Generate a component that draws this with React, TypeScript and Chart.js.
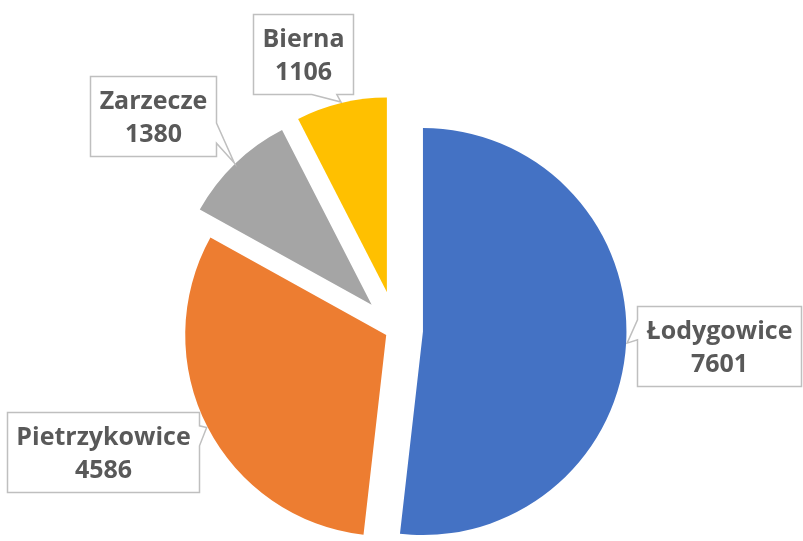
import React, { useEffect, useRef } from "react";
import { Chart, registerables } from "chart.js";

Chart.register(...registerables);

// ---- data ----
const categories: string[] = ["Łodygowice", "Pietrzykowice", "Zarzecze", "Bierna"];
const values: number[] = [7601, 4586, 1380, 1106];

// ---- style ----
const sliceColors: string[] = ["#4472C4", "#ED7D31", "#A5A5A5", "#FFC000"];
const sliceExplode: number[] = [27, 11, 35, 39]; // px each slice is pulled out along its bisector
const sliceRadius: number[] = [203.5, 201, 196.5, 194.5];
// callout box centre relative to the pointer tip (tip sits on the arc at the slice bisector)
const calloutShift: [number, number][] = [
  [91.5, 3],
  [-104, 24],
  [-81.5, -46.5],
  [-38, -48],
];

const FONT = "bold 25px 'Open Sans'";
const TEXT_COLOR = "#595959";
const BORDER_COLOR = "#BFBFBF";

function calloutPath(
  ctx: CanvasRenderingContext2D,
  l: number,
  t: number,
  w: number,
  h: number,
  tipX: number,
  tipY: number
) {
  const cx = l + w / 2;
  const cy = t + h / 2;
  const dxPos = tipX - cx;
  const dyPos = tipY - cy;
  const r = l + w;
  const b = t + h;
  const horizontal = Math.abs(dxPos * h) > Math.abs(dyPos * w);
  const x1 = l + (w * (dxPos > 0 ? 7 : 2)) / 12;
  const x2 = l + (w * (dxPos > 0 ? 10 : 5)) / 12;
  const y1 = t + (h * (dyPos > 0 ? 7 : 2)) / 12;
  const y2 = t + (h * (dyPos > 0 ? 10 : 5)) / 12;
  ctx.beginPath();
  ctx.moveTo(l, t);
  if (!horizontal && dyPos < 0) {
    ctx.lineTo(x1, t);
    ctx.lineTo(tipX, tipY);
    ctx.lineTo(x2, t);
  }
  ctx.lineTo(r, t);
  if (horizontal && dxPos > 0) {
    ctx.lineTo(r, y1);
    ctx.lineTo(tipX, tipY);
    ctx.lineTo(r, y2);
  }
  ctx.lineTo(r, b);
  if (!horizontal && dyPos > 0) {
    ctx.lineTo(x2, b);
    ctx.lineTo(tipX, tipY);
    ctx.lineTo(x1, b);
  }
  ctx.lineTo(l, b);
  if (horizontal && dxPos < 0) {
    ctx.lineTo(l, y2);
    ctx.lineTo(tipX, tipY);
    ctx.lineTo(l, y1);
  }
  ctx.closePath();
}

const explodePlugin = {
  id: "explodeSlices",
  afterDatasetUpdate(chart: any) {
    const meta = chart.getDatasetMeta(0);
    meta.data.forEach((arc: any, i: number) => {
      const mid = (arc.startAngle + arc.endAngle) / 2;
      const d = sliceExplode[i] || 0;
      arc.x = arc.x + Math.cos(mid) * d;
      arc.y = arc.y + Math.sin(mid) * d;
      arc.outerRadius = sliceRadius[i] ?? arc.outerRadius;
    });
  },
};

const calloutPlugin = {
  id: "calloutLabels",
  afterDatasetsDraw(chart: any) {
    const ctx: CanvasRenderingContext2D = chart.ctx;
    const meta = chart.getDatasetMeta(0);
    ctx.save();
    ctx.font = FONT;
    meta.data.forEach((arc: any, i: number) => {
      const mid = (arc.startAngle + arc.endAngle) / 2;
      const tipX = arc.x + Math.cos(mid) * (arc.outerRadius + 1);
      const tipY = arc.y + Math.sin(mid) * (arc.outerRadius + 1);
      const lines = [categories[i], String(values[i])];
      const tw = Math.max(...lines.map((s) => ctx.measureText(s).width));
      const w = Math.round(tw + 18);
      const h = 80;
      const [sx, sy] = calloutShift[i];
      const bx = tipX + sx;
      const by = tipY + sy;
      const l = Math.round(bx - w / 2) + 0.5;
      const t = Math.round(by - h / 2) + 0.5;
      calloutPath(ctx, l, t, w, h, tipX, tipY);
      ctx.fillStyle = "#FFFFFF";
      ctx.fill();
      ctx.lineWidth = 1.5;
      ctx.strokeStyle = BORDER_COLOR;
      ctx.stroke();
      ctx.fillStyle = TEXT_COLOR;
      ctx.textAlign = "center";
      ctx.textBaseline = "alphabetic";
      const c = t + h / 2;
      ctx.fillText(lines[0], l + w / 2, c - 7.5);
      ctx.fillText(lines[1], l + w / 2, c + 25.5);
    });
    ctx.restore();
  },
};

export default function App() {
  const canvasRef = useRef<HTMLCanvasElement | null>(null);

  useEffect(() => {
    if (!canvasRef.current) return;
    const chart = new Chart(canvasRef.current, {
      type: "pie",
      data: {
        labels: categories,
        datasets: [
          {
            data: values,
            backgroundColor: sliceColors,
            borderWidth: 0,
          },
        ],
      },
      options: {
        animation: false,
        responsive: true,
        maintainAspectRatio: false,
        radius: 200,
        layout: { padding: { left: 0, right: 11, top: 119, bottom: 0 } },
        plugins: {
          legend: { display: false },
          tooltip: { enabled: false },
        },
      } as any,
      plugins: [explodePlugin, calloutPlugin],
    });
    return () => chart.destroy();
  }, []);

  return (
    <div
      style={{
        position: "absolute",
        left: 0,
        top: 0,
        width: 803,
        height: 541,
        background: "#FFFFFF",
      }}
    >
      <canvas ref={canvasRef} />
    </div>
  );
}
